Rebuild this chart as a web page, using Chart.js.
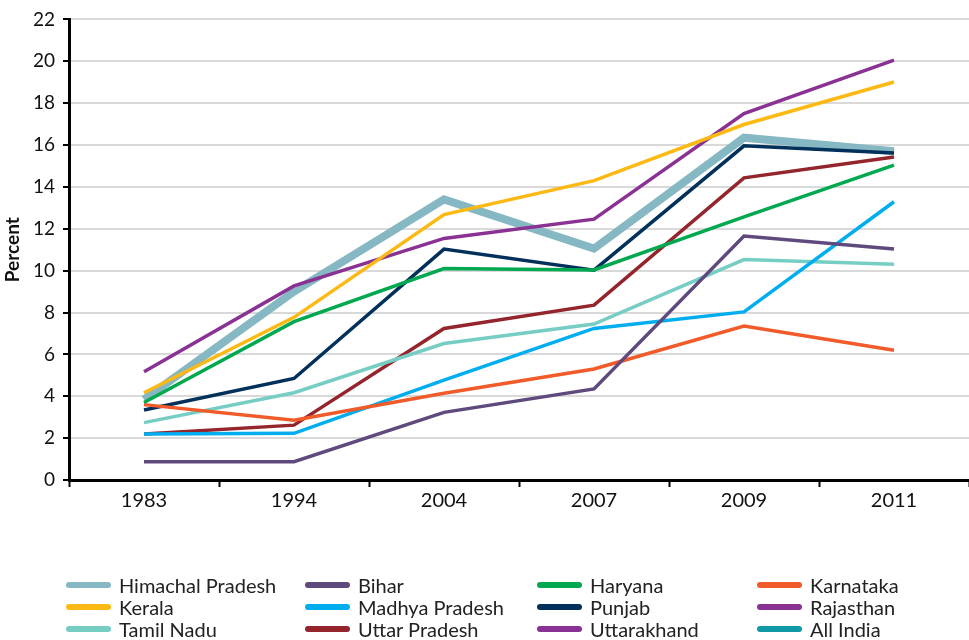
<!DOCTYPE html>
<html>
<head>
<meta charset="utf-8">
<script src="https://cdn.jsdelivr.net/npm/chart.js@4"></script>
<style>
  html, body { margin: 0; padding: 0; background: #fff; }
  #wrap { position: relative; width: 969px; height: 640px; }
  #c { position: absolute; left: 0; top: 0; }
  #legend { position: absolute; left: 0; top: 574px; width: 969px; height: 66px; }
  .item { position: absolute; height: 22px; display: flex; align-items: center;
          font-family: Lato, "Noto Sans", sans-serif;
          font-size: 20px; color: #222; white-space: nowrap; }
  .sw { width: 45px; height: 6px; border-radius: 3px; margin-right: 8px; }
</style>
</head>
<body>
<div id="wrap">
  <canvas id="c" width="969" height="640"></canvas>
  <div id="legend"></div>
</div>
<script>
const years = ['1983', '1994', '2004', '2007', '2009', '2011'];
const yTicks = [0, 2, 4, 6, 8, 10, 12, 14, 16, 18, 20, 22];

const seriesNames = ['Himachal Pradesh', 'Bihar', 'Haryana', 'Karnataka',
                     'Kerala', 'Madhya Pradesh', 'Punjab', 'Rajasthan',
                     'Tamil Nadu', 'Uttar Pradesh', 'Uttarakhand', 'All India'];

const himachal    = [3.85, 9.0, 13.4, 11.05, 16.35, 15.7];
const bihar       = [0.87, 0.87, 3.23, 4.35, 11.65, 11.03];
const haryana     = [3.7, 7.56, 10.1, 10.03, 12.57, 15.04];
const karnataka   = [3.6, 2.86, 4.14, 5.3, 7.35, 6.2];
const kerala      = [4.17, 7.77, 12.68, 14.3, 16.98, 19.01];
const madhya      = [2.2, 2.23, 4.77, 7.24, 8.03, 13.29];
const punjab      = [3.34, 4.85, 11.03, 10.02, 15.96, 15.62];
const rajasthan   = [5.17, 9.27, 11.54, 12.46, 17.5, 20.05];
const tamil       = [2.74, 4.17, 6.52, 7.45, 10.53, 10.31];
const uttar       = [2.2, 2.62, 7.24, 8.35, 14.43, 15.43];
const uttarakhand = [null, null, null, null, null, null];
const allIndia    = [null, null, null, null, null, null];

const seriesValues = [himachal, bihar, haryana, karnataka, kerala, madhya,
                      punjab, rajasthan, tamil, uttar, uttarakhand, allIndia];
const seriesColors = ['#86b8c4', '#5e4a7d', '#00a84f', '#f15a29',
                      '#fdb913', '#00aeef', '#01305a', '#8a3194',
                      '#76cdc3', '#95252c', '#8a3194', '#0f9aa6'];

const datasets = seriesNames.map((name, i) => ({
  label: name,
  data: seriesValues[i],
  borderColor: seriesColors[i],
  backgroundColor: seriesColors[i],
  borderWidth: i === 0 ? 8 : 3.5,
  pointRadius: 0,
  pointHoverRadius: 0,
  tension: 0,
  fill: false,
  order: i === 0 ? 1 : 0
}));

const chart = new Chart(document.getElementById('c'), {
  type: 'line',
  data: { labels: years, datasets: datasets },
  options: {
    responsive: false,
    animation: false,
    layout: { padding: { top: 19, right: 0, bottom: 120, left: 0 } },
    plugins: { legend: { display: false }, tooltip: { enabled: false } },
    scales: {
      x: {
        offset: true,
        grid: { offset: true, drawOnChartArea: false, drawTicks: true,
                tickLength: 7, tickColor: '#000', tickWidth: 2 },
        border: { display: true, color: '#000', width: 3 },
        ticks: { color: '#111', padding: 2,
                 font: { family: 'Lato, "Noto Sans", sans-serif', size: 20 } },
        afterFit: (s) => { s.height = 40; }
      },
      y: {
        min: 0, max: 22,
        afterBuildTicks: (s) => { s.ticks = yTicks.map(v => ({ value: v })); },
        grid: { color: '#d9d9d9', lineWidth: 2, drawTicks: true,
                tickLength: 6, tickColor: '#000', tickWidth: 2 },
        border: { display: true, color: '#000', width: 3 },
        ticks: { color: '#111', padding: 8,
                 font: { family: 'Lato, "Noto Sans", sans-serif', size: 19 } },
        title: { display: true, text: 'Percent', color: '#111', padding: 1,
                 font: { family: 'Lato, "Noto Sans", sans-serif', size: 19, weight: 'bold' } },
        afterFit: (s) => { s.width = 69; }
      }
    }
  }
});

// HTML legend in a 4-column grid, built from the chart's datasets
const colX = [66, 305, 537, 757];
const rowY = [0, 22, 44];
const leg = document.getElementById('legend');
chart.data.datasets.forEach((ds, i) => {
  const d = document.createElement('div');
  d.className = 'item';
  d.style.left = colX[i % 4] + 'px';
  d.style.top = rowY[Math.floor(i / 4)] + 'px';
  const sw = document.createElement('span');
  sw.className = 'sw';
  sw.style.background = ds.borderColor;
  const t = document.createElement('span');
  t.textContent = ds.label;
  d.appendChild(sw); d.appendChild(t);
  leg.appendChild(d);
});
</script>
</body>
</html>
